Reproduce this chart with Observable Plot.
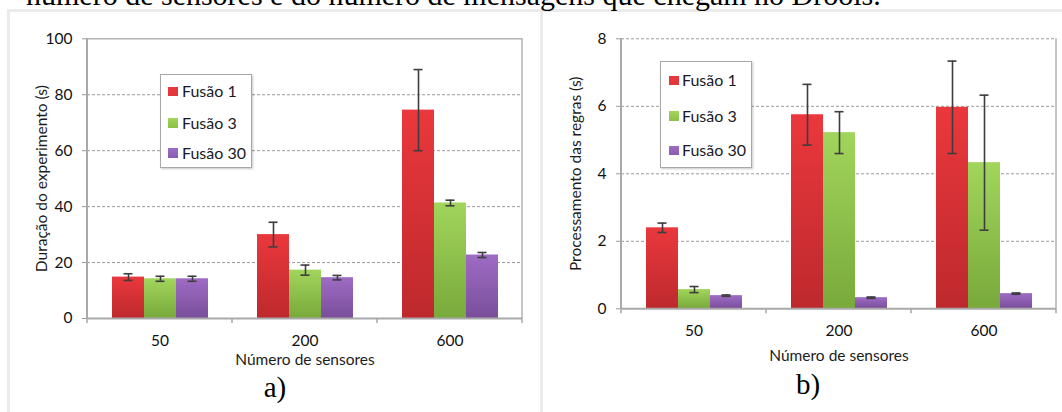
<!DOCTYPE html>
<html>
<head>
<meta charset="utf-8">
<script src="https://cdn.jsdelivr.net/npm/d3@7"></script>
<script src="https://cdn.jsdelivr.net/npm/@observablehq/plot@0.6"></script>
<style>
  html, body { margin: 0; padding: 0; background: #fff; }
  #root { position: relative; width: 1062px; height: 412px; overflow: hidden; background: #fff; }
  .layer { position: absolute; left: 0; top: 0; }
  .legend { position: absolute; background: #fff; border: 1px solid #a8a8a8; box-sizing: border-box;
            box-shadow: 1px 1px 2px rgba(0,0,0,0.22); }
  .lg-sw { position: absolute; width: 9.5px; height: 9.5px; }
  .lg-tx { position: absolute; white-space: nowrap; font-family: Lato, "Open Sans", sans-serif;
           font-size: 16px; line-height: 16px; color: #1a1a26; }
</style>
</head>
<body>
<div id="root"></div>
<script>
// ---------------- data ----------------
const categories = ["50", "200", "600"];
const seriesNames = ["Fusão 1", "Fusão 3", "Fusão 30"];

// a) Duração do experimento (s)
const durationF1 = [14.8, 30.0, 74.5];
const durationF1Err = [1.2, 4.4, 14.5];
const durationF3 = [14.2, 17.3, 41.3];
const durationF3Err = [0.9, 1.8, 1.0];
const durationF30 = [14.2, 14.6, 22.7];
const durationF30Err = [0.9, 0.8, 0.9];
const durationTicks = [0, 20, 40, 60, 80, 100];

// b) Processamento das regras (s)
const processingF1 = [2.4, 5.75, 5.97];
const processingF1Err = [0.14, 0.9, 1.37];
const processingF3 = [0.57, 5.22, 4.33];
const processingF3Err = [0.09, 0.62, 2.0];
const processingF30 = [0.39, 0.33, 0.45];
const processingF30Err = [0.02, 0.02, 0.02];
const processingTicks = [0, 2, 4, 6, 8];

const xTitle = "Número de sensores";
const durationTitle = "Duração do experimento (s)";
const processingTitle = "Processamento das regras (s)";
const captionText = "número de sensores e do número de mensagens que chegam no Drools.";
const panelLetters = ["a)", "b)"];

// ---------------- styles ----------------
const gradTop = ["#ea383d", "#a2d55c", "#9e6cc4"];
const gradBottom = ["#bd292d", "#78a93b", "#7a4e9b"];
const swatchColors = ["#df383c", "#8cc049", "#8a5cb0"];

function buildRows(means, errs) {
  const rows = [];
  categories.forEach((cat, i) =>
    seriesNames.forEach((s, j) => rows.push({cat, series: s, value: means[j][i], err: errs[j][i]})));
  return rows;
}

const root = document.getElementById("root");

// background frame + caption layer
const bg = d3.select(root).append("svg").attr("class", "layer").attr("width", 1062).attr("height", 412);
bg.append("rect").attr("x", 7).attr("y", 9).attr("width", 1055).attr("height", 3).attr("fill", "#ebebeb");
bg.append("rect").attr("x", 7).attr("y", 9).attr("width", 3).attr("height", 403).attr("fill", "#ebebeb");
bg.append("rect").attr("x", 540).attr("y", 9).attr("width", 3).attr("height", 403).attr("fill", "#ebebeb");
bg.append("text").attr("x", 26).attr("y", 4.5)
  .attr("font-family", "'Liberation Serif', serif").attr("font-size", 30).attr("fill", "#000")
  .text(captionText);

function drawPanel(o) {
  const {rows, ticks, yTitle, left, width, height, ml, mr, mt, mb, topSolid, yLabelOffset, xLabelOffset, gid} = o;
  const yMax = ticks[ticks.length - 1];
  const grid = ticks.filter(t => t !== 0 && !(topSolid && t === yMax));
  const urls = seriesNames.map((_, j) => `url(#${gid}${j})`);
  const capInset = 11.5;
  const errStyle = {stroke: "#3d3d3d", strokeWidth: 1.6};
  const chart = Plot.plot({
    width, height,
    marginLeft: ml, marginRight: mr, marginTop: mt, marginBottom: mb,
    style: {background: "transparent", fontFamily: "Lato, 'Open Sans', sans-serif", fontSize: "15.5px", color: "#111", overflow: "visible"},
    facet: {data: rows, x: "cat"},
    fx: {domain: categories, padding: 0, axis: "bottom", tickSize: 0, tickPadding: 16,
         label: xTitle, labelAnchor: "center", labelOffset: xLabelOffset, labelArrow: "none"},
    x: {domain: seriesNames, paddingInner: 0, paddingOuter: 0.75, axis: null},
    y: {domain: [0, yMax], ticks, tickSize: 5, tickPadding: 10, label: yTitle,
        labelAnchor: "center", labelOffset: yLabelOffset, labelArrow: "none"},
    color: {domain: seriesNames, range: urls},
    marks: [
      Plot.ruleY(grid, {stroke: "#9a9a9a", strokeWidth: 1, strokeDasharray: "3,2"}),
      Plot.barY(rows, {x: "series", y: "value", fill: "series"}),
      Plot.ruleX(rows, {x: "series", y1: d => d.value - d.err, y2: d => d.value + d.err, ...errStyle}),
      Plot.tickY(rows, {x: "series", y: d => d.value + d.err, insetLeft: capInset, insetRight: capInset, ...errStyle}),
      Plot.tickY(rows, {x: "series", y: d => d.value - d.err, insetLeft: capInset, insetRight: capInset, ...errStyle}),
      Plot.ruleY([0], {stroke: "#a9a9a9", strokeWidth: 2}),
      ...(topSolid ? [Plot.ruleY([yMax], {stroke: "#b2b2b2", strokeWidth: 1.5})] : [])
    ]
  });
  const svgEl = chart.tagName.toLowerCase() === "svg" ? chart : chart.querySelector("svg");
  const wrap = document.createElement("div");
  wrap.style.position = "absolute"; wrap.style.left = left + "px"; wrap.style.top = "0px";
  wrap.appendChild(chart);
  root.appendChild(wrap);

  const svg = d3.select(svgEl);
  // gradients
  const defs = svg.insert("defs", ":first-child");
  seriesNames.forEach((_, j) => {
    const g = defs.append("linearGradient").attr("id", gid + j).attr("x1", 0).attr("y1", 0).attr("x2", 0).attr("y2", 1);
    g.append("stop").attr("offset", "0%").attr("stop-color", gradTop[j]);
    g.append("stop").attr("offset", "100%").attr("stop-color", gradBottom[j]);
  });
  // axis styling: gray tick lines, slightly darker titles
  svg.selectAll("g[aria-label^='y-axis'] line, g[aria-label^='y-axis'] path").attr("stroke", "#9a9a9a");
  svg.selectAll("g[aria-label='y-axis label'] text, g[aria-label='fx-axis label'] text").attr("fill", "#1c1c1c");

  // frame lines (left axis, right border) and category boundary ticks from the scales
  let y0 = height - mb, yTop = mt;
  try { const ys = chart.scale("y"); if (ys && ys.apply) { y0 = ys.apply(0); yTop = ys.apply(yMax); } } catch (e) {}
  let bounds = null;
  try {
    const fxs = chart.scale("fx");
    if (fxs && fxs.apply && fxs.bandwidth != null) {
      bounds = categories.map(c => fxs.apply(c));
      bounds.push(bounds[bounds.length - 1] + fxs.bandwidth);
    }
  } catch (e) {}
  if (!bounds) {
    const step = (width - ml - mr) / categories.length;
    bounds = d3.range(categories.length + 1).map(i => ml + i * step);
  }
  const fr = svg.append("g");
  fr.append("line").attr("x1", bounds[0]).attr("x2", bounds[0]).attr("y1", yTop).attr("y2", y0)
    .attr("stroke", "#a9a9a9").attr("stroke-width", 2);
  fr.append("line").attr("x1", bounds[bounds.length - 1]).attr("x2", bounds[bounds.length - 1]).attr("y1", yTop).attr("y2", y0)
    .attr("stroke", "#b2b2b2").attr("stroke-width", 1.5);
  bounds.forEach(b => fr.append("line").attr("x1", b).attr("x2", b).attr("y1", y0).attr("y2", y0 + 5)
    .attr("stroke", "#a9a9a9").attr("stroke-width", 1.5));
  return chart;
}

drawPanel({
  rows: buildRows([durationF1, durationF3, durationF30], [durationF1Err, durationF3Err, durationF30Err]),
  ticks: durationTicks, yTitle: durationTitle,
  left: 0, width: 540, height: 412, ml: 86, mr: 17, mt: 38.3, mb: 94,
  topSolid: true, yLabelOffset: 52, xLabelOffset: 46, gid: "ga"
});
drawPanel({
  rows: buildRows([processingF1, processingF3, processingF30], [processingF1Err, processingF3Err, processingF30Err]),
  ticks: processingTicks, yTitle: processingTitle,
  left: 540, width: 522, height: 412, ml: 81, mr: 6, mt: 38.3, mb: 103.7,
  topSolid: false, yLabelOffset: 52, xLabelOffset: 52, gid: "gb"
});

// panel letters (above the charts)
const fg = d3.select(root).append("svg").attr("class", "layer").attr("width", 1062).attr("height", 412)
  .style("pointer-events", "none");
fg.append("text").attr("x", 275).attr("y", 397).attr("text-anchor", "middle")
  .attr("font-family", "'Liberation Serif', serif").attr("font-size", 29).attr("fill", "#000").text(panelLetters[0]);
fg.append("text").attr("x", 808).attr("y", 394).attr("text-anchor", "middle")
  .attr("font-family", "'Liberation Serif', serif").attr("font-size", 29).attr("fill", "#000").text(panelLetters[1]);

// legends
function legend(box, swLeft, txLeft, rowCenters) {
  const d = document.createElement("div");
  d.className = "legend";
  Object.assign(d.style, {left: box[0] + "px", top: box[1] + "px", width: box[2] + "px", height: box[3] + "px"});
  root.appendChild(d);
  seriesNames.forEach((s, j) => {
    const sw = document.createElement("div");
    sw.className = "lg-sw";
    Object.assign(sw.style, {left: swLeft + "px", top: (rowCenters[j] - 4.75) + "px",
      background: `linear-gradient(${gradTop[j]}, ${swatchColors[j]})`});
    root.appendChild(sw);
    const tx = document.createElement("div");
    tx.className = "lg-tx";
    Object.assign(tx.style, {left: txLeft + "px", top: (rowCenters[j] - 8.5) + "px"});
    tx.textContent = s;
    root.appendChild(tx);
  });
}
legend([160, 74, 92, 94], 168, 182, [91.5, 123, 153]);
legend([660, 61, 92, 107], 669, 682, [80.5, 116, 150.5]);
</script>
</body>
</html>
